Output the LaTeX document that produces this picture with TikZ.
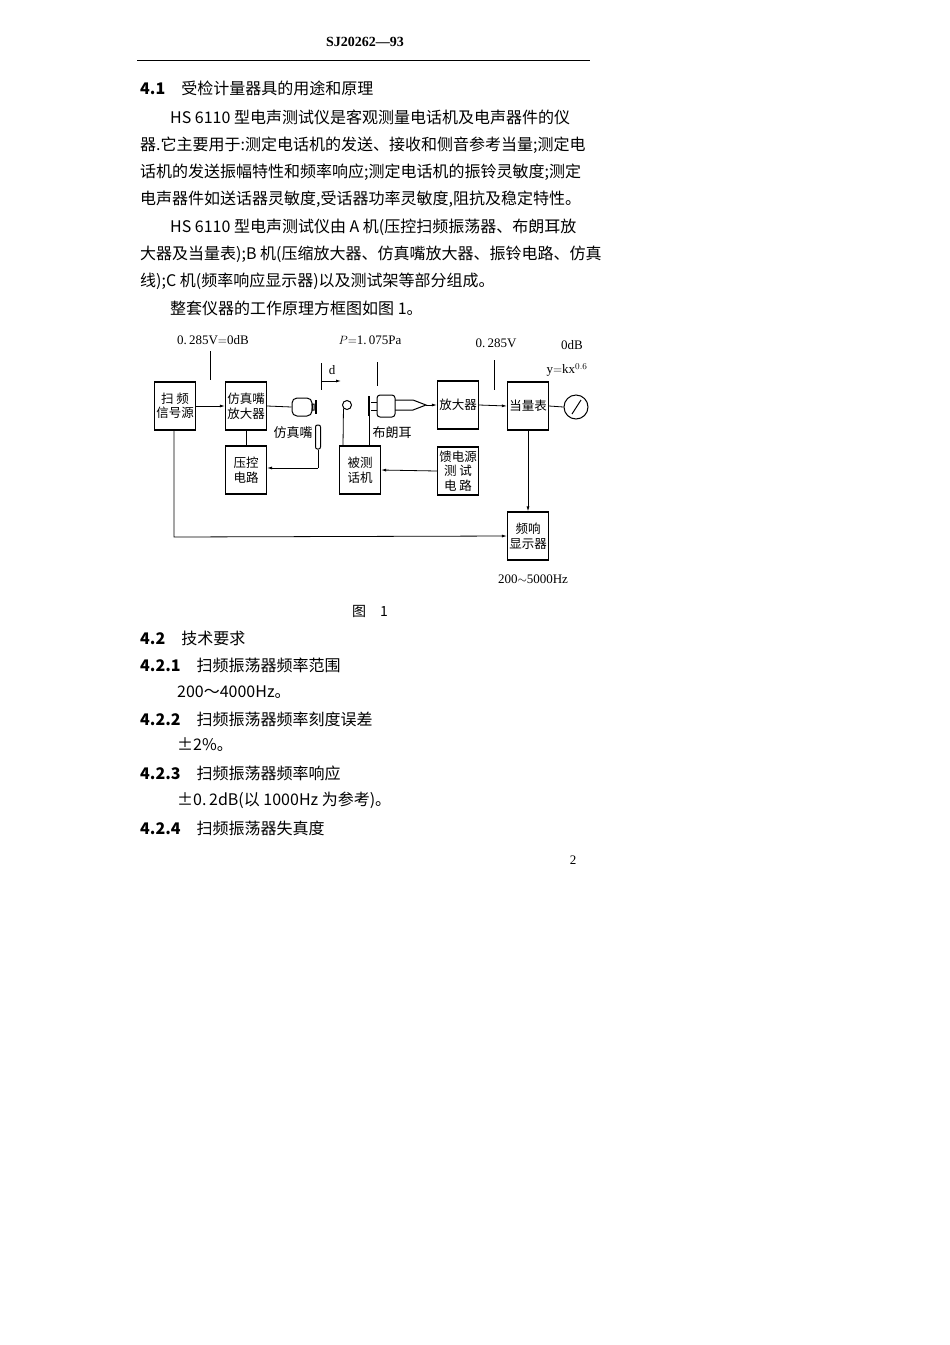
\documentclass[tikz,border=0pt]{standalone}
\usepackage{fontspec}
\setmainfont{Liberation Serif}
\newfontfamily\cjk{Noto Sans CJK SC}
\usetikzlibrary{arrows.meta,calc}
\begin{document}
\begin{tikzpicture}[x=1pt,y=-1pt,
 txt/.style={anchor=west,inner sep=0pt,font=\cjk\fontsize{16}{16}\selectfont},
 blk/.style={draw,line width=1.2pt,minimum width=41pt,minimum height=48pt,inner sep=1pt,align=center,font=\cjk\fontsize{12.5}{14.5}\selectfont},
 lbl/.style={inner sep=0pt,font=\fontsize{13}{13}\selectfont},
 ln/.style={line width=0.8pt},
 arr/.style={ln,-{Latex[length=5pt,width=3pt]}}]
\useasboundingbox (0,0) rectangle (950,1345);
\node[inner sep=0pt,font=\bfseries\fontsize{14}{14}\selectfont] (hdr) at (365,42) {SJ20262—93};
\draw[line width=1pt] (137,60) -- (590,60);
\node[txt] (t1) at (140,88) {\textbf{4.1}\quad 受检计量器具的用途和原理};
\node[txt] (t2) at (170,117) {HS 6110 型电声测试仪是客观测量电话机及电声器件的仪};
\node[txt] (t3) at (140,145) {器.它主要用于:测定电话机的发送、接收和侧音参考当量;测定电};
\node[txt] (t4) at (140,172) {话机的发送振幅特性和频率响应;测定电话机的振铃灵敏度;测定};
\node[txt] (t5) at (140,199) {电声器件如送话器灵敏度,受话器功率灵敏度,阻抗及稳定特性。};
\node[txt] (t6) at (170,227) {HS 6110 型电声测试仪由 A 机(压控扫频振荡器、布朗耳放};
\node[txt] (t7) at (140,254) {大器及当量表);B 机(压缩放大器、仿真嘴放大器、振铃电路、仿真};
\node[txt] (t8) at (140,281) {线);C 机(频率响应显示器)以及测试架等部分组成。};
\node[txt] (t9) at (170,308) {整套仪器的工作原理方框图如图 1。};
% blocks
\node[blk] (sweep) at (175,406) {扫\ 频\\信号源};
\node[blk] (mamp) at (246,406) {仿真嘴\\放大器};
\node[blk] (vc) at (246,470) {压控\\电路};
\node[blk] (phone) at (360,470) {被测\\话机};
\node[blk] (amp) at (458,405) {放大器};
\node[blk] (feed) at (458,471) {馈电源\\测\ 试\\电\ 路};
\node[blk] (meter) at (528,406) {当量表};
\node[blk] (disp) at (528,536) {频响\\显示器};
\node[draw,circle,line width=1pt,minimum size=24pt] (dial) at (576,407) {};
\draw[line width=1pt] ($(dial)+(-4,7)$) -- ($(dial)+(5,-7)$);
% mouth
\node[draw,rounded corners=5pt,line width=1pt,minimum width=20pt,minimum height=18pt,inner sep=0pt] (mouth) at (302,407) {};
\draw[line width=1pt] (mouth.east) -- (312,404) -- (314,404) -- (314,410) -- (312,410) -- (mouth.east);
\draw[line width=1.2pt] (316,400) -- (316,414);
\node[draw,rounded corners=2pt,line width=1pt,minimum width=5pt,minimum height=24pt,inner sep=0pt] (pen) at (318,437) {};
\coordinate (penb) at (318,468);
\coordinate (vcin) at (267,468);
% receiver
\node[draw,circle,line width=1pt,minimum size=9pt,inner sep=0pt] (rec) at (347,405) {};
\coordinate (recb) at (343,446);
\draw[ln] (rec.south west) -- (recb);
% artificial ear
\draw[line width=1.2pt] (369,396) -- (369,416);
\node[draw,rounded corners=3pt,line width=1pt,minimum width=18pt,minimum height=22pt,inner sep=0pt] (ear) at (386,406) {};
\draw[line width=1pt] (371,402) -- (377,402) (371,410) -- (377,410);
\draw[line width=1pt] (395,400) -- (413,400) -- (426,405) -- (413,410) -- (395,410);
\coordinate (cone) at (426,405);
\coordinate (eart) at (369,416);
\coordinate (earb) at (369,446);
\draw[ln] (eart) -- (earb);
% labels
\node[lbl,font=\cjk\fontsize{13}{13}\selectfont] (lm) at (293,433) {仿真嘴};
\node[lbl,font=\cjk\fontsize{13}{13}\selectfont] (le) at (392,433) {布朗耳};
\node[lbl] (l1) at (213,340) {0.\,285V$=$0dB};
\node[lbl] (l2) at (370,340) {$P$$=$1.\,075Pa};
\node[lbl] (l3) at (496,343) {0.\,285V};
\node[lbl] (l4) at (572,345) {0dB};
\node[lbl] (l5) at (567,370) {y$=$kx$^{0.6}$};
\node[lbl] (l6) at (533,579) {200$\sim$5000Hz};
\node[lbl,font=\cjk\fontsize{14}{14}\selectfont] (fig) at (370,611) {图\quad 1};
\node[lbl] (ld) at (332,370) {d};
\draw[ln] (210,351) -- (210,380);
\draw[ln] (377,362) -- (377,386);
\draw[ln] (494,360) -- (494,390);
\draw[ln] (321,363) -- (321,390);
\draw[arr] (321,381) -- (341,381);
% connectors
\draw[arr] (sweep.east) -- (mamp.west);
\draw[ln] (mamp.east) -- (mouth.west);
\draw[ln] (mamp.south) -- (vc.north);
\draw[ln] (pen.south) -- (penb);
\draw[arr] (penb) -- (vcin);
\draw[arr] (feed.west) -- (phone.east);
\draw[arr] (cone) -- (amp.west);
\draw[arr] (amp.east) -- (meter.west);
\draw[ln] (meter.east) -- (dial.west);
\draw[arr] (meter.south) -- (disp.north);
\coordinate (sb) at (174,430);
\coordinate (sc) at (174,537);
\draw[arr] (sb) -- (sc) -- (disp.west);
% lower text
\node[txt] (s1) at (140,638) {\textbf{4.2}\quad 技术要求};
\node[txt] (s2) at (140,665) {\textbf{4.2.1}\quad 扫频振荡器频率范围};
\node[txt] (s3) at (177,692) {200～4000Hz。};
\node[txt] (s4) at (140,719) {\textbf{4.2.2}\quad 扫频振荡器频率刻度误差};
\node[txt] (s5) at (177,745) {±2\%。};
\node[txt] (s6) at (140,773) {\textbf{4.2.3}\quad 扫频振荡器频率响应};
\node[txt] (s7) at (177,800) {±0.\,2dB(以 1000Hz 为参考)。};
\node[txt] (s8) at (140,828) {\textbf{4.2.4}\quad 扫频振荡器失真度};
\node[lbl,font=\fontsize{13}{13}\selectfont] (pg) at (573,860) {2};
\end{tikzpicture}
\end{document}
